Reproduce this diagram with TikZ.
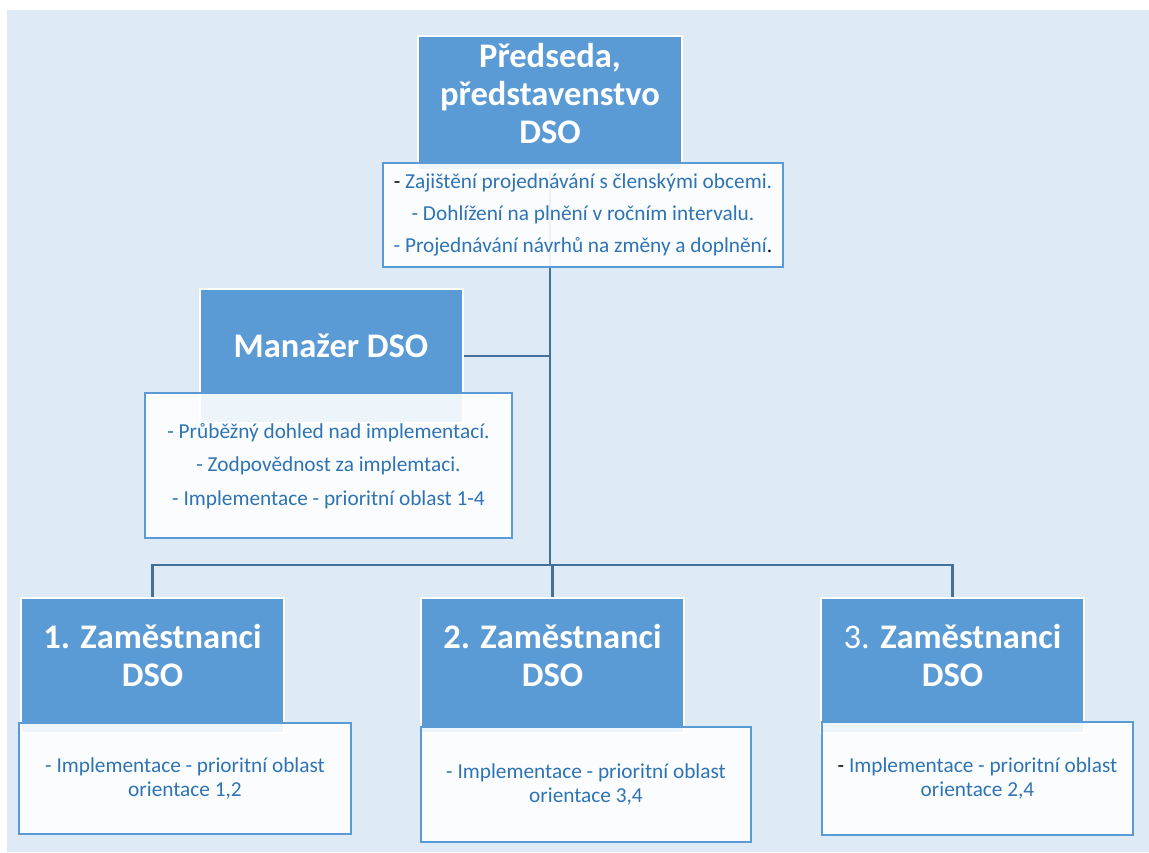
\documentclass[tikz,border=0pt]{standalone}
\usepackage{fontspec}
\setmainfont{Carlito}
\definecolor{bgblue}{HTML}{DEEAF6}
\definecolor{boxblue}{HTML}{5B9BD5}
\definecolor{lineblue}{HTML}{41719C}
\definecolor{txtblue}{HTML}{2E74B5}
\pgfdeclarelayer{bg}
\pgfdeclarelayer{lines}
\pgfsetlayers{bg,lines,main}
\begin{document}
\begin{tikzpicture}[x=1pt,y=-1pt,
  titlebox/.style={rectangle, fill=boxblue, draw=white, line width=2pt, inner sep=0pt, outer sep=0pt},
  descbox/.style={rectangle, fill=white, fill opacity=0.9, draw=boxblue, draw opacity=1, line width=2pt, inner sep=0pt, outer sep=0pt},
  titletext/.style={text=white, font=\fontsize{34.5}{38}\selectfont\bfseries, align=center, anchor=base, inner sep=0pt},
  desctext/.style={text=txtblue, font=\fontsize{21.3}{23.5}\selectfont, align=center, anchor=base, inner sep=0pt},
  conn/.style={draw=lineblue, line width=2.4pt, line join=miter}]
\useasboundingbox (0,0) rectangle (1149,852);
\begin{pgfonlayer}{bg}
\fill[white] (0,0) rectangle (1149,852);
\fill[bgblue] (7,10) rectangle (1149,852);
\end{pgfonlayer}
% title boxes
\node[titlebox, minimum width=264, minimum height=134] (p) at (550,103) {};
\node[titlebox, minimum width=263, minimum height=134] (m) at (331.5,356) {};
\node[titlebox, minimum width=263, minimum height=135] (e1) at (152.5,665.5) {};
\node[titlebox, minimum width=263, minimum height=135] (e2) at (552.5,665.5) {};
\node[titlebox, minimum width=263, minimum height=135] (e3) at (952.5,665.5) {};
% description boxes
\node[descbox, minimum width=400, minimum height=104] (pd) at (583,215) {};
\node[descbox, minimum width=367, minimum height=145] (md) at (328.5,465.5) {};
\node[descbox, minimum width=332, minimum height=111] (e1d) at (185,778.5) {};
\node[descbox, minimum width=330, minimum height=115] (e2d) at (586,784.5) {};
\node[descbox, minimum width=311, minimum height=113] (e3d) at (977.5,778.5) {};
% connectors
\coordinate (j) at (550,565);
\begin{pgfonlayer}{lines}
\draw[conn] (p.south) -- (j);
\draw[conn] (m.east) -- (m.east -| j);
\draw[conn] (e1.north) |- (j);
\draw[conn] (e3.north) |- (j);
\draw[conn] (e2.north) -- (e2.north |- j);
\end{pgfonlayer}
% titles (anchor base = baseline of the last line)
\node[titletext] (ptxt) at (550,143) {Předseda,\\představenstvo\\DSO};
\node[titletext] (mtxt) at (331,357) {Manažer DSO};
\node[titletext] (e1txt) at (152.5,686) {1. Zaměstnanci\\DSO};
\node[titletext] (e2txt) at (552.5,686) {2. Zaměstnanci\\DSO};
\node[titletext] (e3txt) at (952.5,686) {{\mdseries 3.} Zaměstnanci\\DSO};
% descriptions
\node[desctext, font=\fontsize{21.3}{32}\selectfont] (pdtxt) at (583,252) {{\color{black}-} Zajištění projednávání s členskými obcemi.\\- Dohlížení na plnění v ročním intervalu.\\- Projednávání návrhů na změny a doplnění{\color{black}.}};
\node[desctext, font=\fontsize{21.3}{33.5}\selectfont] (mdtxt) at (328.5,505) {- Průběžný dohled nad implementací.\\- Zodpovědnost za implemtaci.\\- Implementace - prioritní oblast 1-4};
\node[desctext] (e1dtxt) at (185,796) {- Implementace - prioritní oblast\\orientace 1,2};
\node[desctext] (e2dtxt) at (586,802) {- Implementace - prioritní oblast\\orientace 3,4};
\node[desctext] (e3dtxt) at (977.5,796) {{\color{black}-} Implementace - prioritní oblast\\orientace 2,4};
\end{tikzpicture}
\end{document}
